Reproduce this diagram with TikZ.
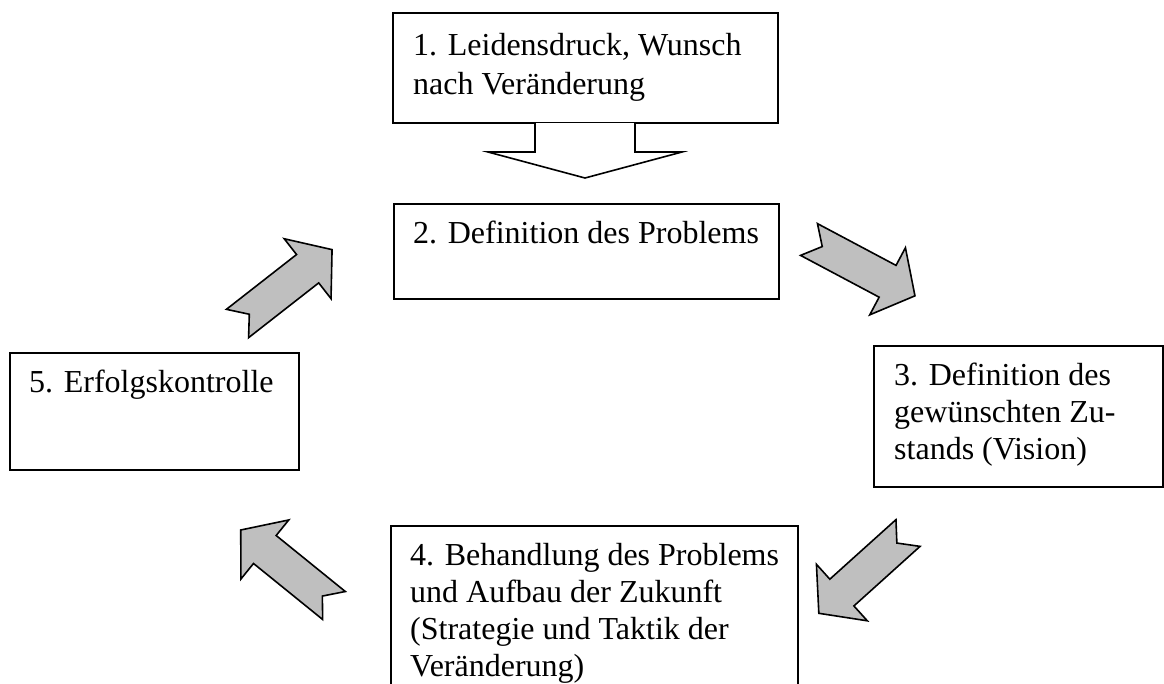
\documentclass[tikz,border=0pt]{standalone}
\usepackage{fontspec}
\setmainfont{Liberation Serif}
\begin{document}
\begin{tikzpicture}[x=1pt,y=-1pt,
  frame/.style={draw=black,line width=1.6pt,fill=white},
  boxtext/.style={anchor=north west,inner sep=0pt,align=left,
    font=\fontsize{32}{37}\selectfont},
  arrowfill/.style={draw=black,line width=1.6pt,fill=black!25,line join=miter},
  blockarrow/.pic={
    \path[arrowfill] (0,18) -- (89,18) -- (89,38) -- (120,0) -- (89,-38)
      -- (89,-18) -- (0,-18) -- (15,0) -- cycle;
  }]
\useasboundingbox (0,0) rectangle (1164,683);

% step 1: box with a hollow down arrow
\draw[frame] (393,13) rectangle (778,123);
\coordinate (c1) at (585,178);
\draw[line width=1.6pt,fill=white,line join=miter]
  (535,123) -- (535,152) -- (488,152) -- (c1) -- (682,152) -- (635,152) -- (635,123);
\node[boxtext,font=\fontsize{32}{39}\selectfont] (t1) at (413,33)
  {1. Leidensdruck, Wunsch\\nach Veränderung};

% step 2
\node[frame,minimum width=385pt,minimum height=95pt,anchor=north west,inner sep=0pt] (b2) at (393,203) {};
\node[boxtext] (t2) at (413,221) {2. Definition des Problems};

% step 3
\node[frame,minimum width=289pt,minimum height=141pt,anchor=north west,inner sep=0pt] (b3) at (873,345) {};
\node[boxtext] (t3) at (894,363) {3. Definition des\\gewünschten Zu-\\stands (Vision)};

% step 4 (runs past the lower edge)
\begin{scope}
\clip (0,0) rectangle (1164,683);
\node[frame,minimum width=407pt,minimum height=200pt,anchor=north west,inner sep=0pt] (b4) at (390,525) {};
\end{scope}
\node[boxtext] (t4) at (410,543)
  {4. Behandlung des Problems\\und Aufbau der Zukunft\\(Strategie und Taktik der\\Veränderung)};

% step 5
\node[frame,minimum width=289pt,minimum height=117pt,anchor=north west,inner sep=0pt] (b5) at (9,352) {};
\node[boxtext] (t5) at (29,370) {5. Erfolgskontrolle};

% grey cycle arrows
\pic[rotate=-28] (a23) at (809,239.5) {blockarrow};
\pic[rotate=222] (a34) at (908,533) {blockarrow};
\pic[rotate=141] (a45) at (334,605.5) {blockarrow};
\pic[rotate=38]  (a52) at (237.5,323.5) {blockarrow};
\end{tikzpicture}
\end{document}
